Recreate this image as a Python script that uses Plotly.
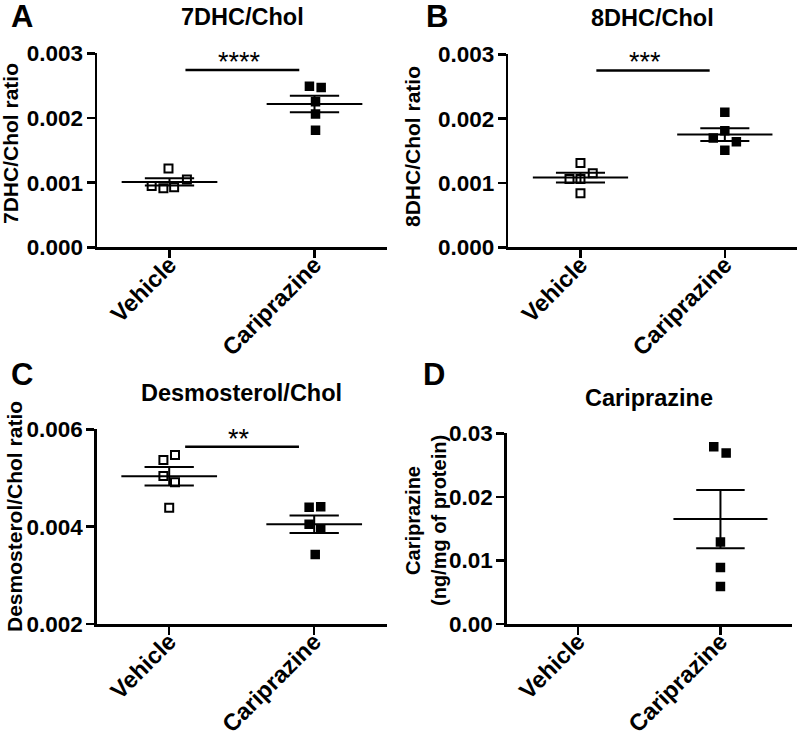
import plotly.graph_objects as go
import numpy as np

W, H = 800, 739

categories = ["Vehicle", "Cariprazine"]

# Panel A: 7DHC/Chol ratio
a_vehicle = [0.00122, 0.000948, 0.000912, 0.000927, 0.00105]
a_carip = [0.00249, 0.00247, 0.00225, 0.00206, 0.00181]
# Panel B: 8DHC/Chol ratio
b_vehicle = [0.00131, 0.00115, 0.00106, 0.00106, 0.00084]
b_carip = [0.00210, 0.00181, 0.00170, 0.00164, 0.00151]
# Panel C: Desmosterol/Chol ratio
c_vehicle = [0.00547, 0.00537, 0.00504, 0.00491, 0.00439]
c_carip = [0.00440, 0.00441, 0.00405, 0.00395, 0.00343]
# Panel D: Cariprazine (ng/mg of protein)
d_vehicle = []
d_carip = [0.0279, 0.0269, 0.0129, 0.0089, 0.0059]

# horizontal scatter spread (category units), as in the original dot plot
a_vehicle_jit = [-0.007, -0.123, -0.042, 0.032, 0.12]
a_carip_jit = [-0.035, 0.046, 0.007, 0.007, 0.007]
b_vehicle_jit = [0.0, 0.085, -0.076, 0.0, 0.0]
b_carip_jit = [0.0, 0.0, -0.08, 0.08, 0.0]
c_vehicle_jit = [0.04, -0.04, -0.04, 0.04, 0.0]
c_carip_jit = [-0.035, 0.045, -0.035, 0.045, 0.007]
d_vehicle_jit = []
d_carip_jit = [-0.047, 0.04, 0.0, 0.0, 0.0]

titles = ["7DHC/Chol", "8DHC/Chol", "Desmosterol/Chol", "Cariprazine"]
ytitles = ["7DHC/Chol ratio", "8DHC/Chol ratio", "Desmosterol/Chol ratio",
           "Cariprazine<br>(ng/mg of protein)"]
letters = ["A", "B", "C", "D"]
sig_labels = ["****", "***", "**", None]
sig_y = [0.00274, 0.00275, 0.00564, None]
sig_text_x = [0.48, 0.45, 0.48, None]

FONT = "Liberation Sans, Arial, Helvetica, sans-serif"


def px(x):
    return x / W


def py(y):
    return 1 - y / H


# panel pixel boxes: (x_left, x_right, y_top, y_bottom)
boxes = [
    (97, 387, 53.3, 247.3),
    (508.3, 797, 54.3, 247.3),
    (96.7, 386.7, 429.3, 624),
    (506.7, 791.7, 433.3, 624),
]
yranges = [[0, 0.003], [0, 0.003], [0.002, 0.006], [0, 0.03]]
ydticks = [0.001, 0.001, 0.002, 0.01]
yfmt = [".3f", ".3f", ".3f", ".2f"]

data = [
    (a_vehicle, a_vehicle_jit, a_carip, a_carip_jit),
    (b_vehicle, b_vehicle_jit, b_carip, b_carip_jit),
    (c_vehicle, c_vehicle_jit, c_carip, c_carip_jit),
    (d_vehicle, d_vehicle_jit, d_carip, d_carip_jit),
]

title_y = [17, 18, 393, 398]
ytitle_pos = [(11, 144), (412, 147), (14, 517), (426, 521)]
letter_pos = [(22, 16), (437, 16), (22, 374), (434, 374)]

fig = go.Figure()
layout = dict(
    width=W, height=H, margin=dict(l=0, r=0, t=0, b=0, autoexpand=False),
    paper_bgcolor="white", plot_bgcolor="white", showlegend=False,
    font=dict(family=FONT, color="black"),
)
annotations = []
shapes = []

for i in range(4):
    k = i + 1
    xa = "x" if k == 1 else f"x{k}"
    ya = "y" if k == 1 else f"y{k}"
    xl, xr, yt, yb = boxes[i]
    axis_common = dict(
        showline=True, linecolor="black", linewidth=2.5,
        ticks="outside", ticklen=8, tickwidth=2.5, tickcolor="black",
        showgrid=False, zeroline=False, automargin=False, fixedrange=True,
    )
    layout[f"xaxis{'' if k == 1 else k}"] = dict(
        axis_common, domain=[px(xl), px(xr)], anchor=ya, range=[-0.5, 1.5],
        tickvals=[0, 1], ticktext=categories, tickangle=-45, ticklabelstandoff=-16,
        tickfont=dict(family=FONT, size=23.5, color="black", weight="bold"),
    )
    layout[f"yaxis{'' if k == 1 else k}"] = dict(
        axis_common, domain=[py(yb), py(yt)], anchor=xa, range=yranges[i],
        dtick=ydticks[i], tick0=0, tickformat=yfmt[i], ticklabelstandoff=-1,
        tickfont=dict(family=FONT, size=22.5, color="black", weight="bold"),
    )

    veh, vj, car, cj = data[i]
    groups = [(0, veh, vj, "square-open"), (1, car, cj, "square")]
    for gx, vals, jit, sym in groups:
        if len(vals) == 0:
            continue
        vals_arr = np.array(vals)
        xs = [gx + j for j in jit]
        fig.add_trace(go.Scatter(
            x=xs, y=vals, mode="markers", xaxis=xa, yaxis=ya,
            marker=dict(symbol=sym, size=8 if sym == "square-open" else 7.5,
                        color="black", line=dict(width=2, color="black")),
            cliponaxis=False, hoverinfo="skip",
        ))
        m = vals_arr.mean()
        sem = vals_arr.std(ddof=1) / np.sqrt(len(vals_arr))
        lw = 2
        fig.add_trace(go.Scatter(x=[gx - 0.33, gx + 0.33], y=[m, m], mode="lines",
                                 xaxis=xa, yaxis=ya, line=dict(color="black", width=lw),
                                 cliponaxis=False, hoverinfo="skip"))
        for yy in (m - sem, m + sem):
            fig.add_trace(go.Scatter(x=[gx - 0.17, gx + 0.17], y=[yy, yy], mode="lines",
                                     xaxis=xa, yaxis=ya, line=dict(color="black", width=lw),
                                     cliponaxis=False, hoverinfo="skip"))
        fig.add_trace(go.Scatter(x=[gx, gx], y=[m - sem, m + sem], mode="lines",
                                 xaxis=xa, yaxis=ya, line=dict(color="black", width=lw),
                                 cliponaxis=False, hoverinfo="skip"))

    if sig_labels[i]:
        shapes.append(dict(type="line", xref=xa, yref=ya, x0=0.11, x1=0.895,
                           y0=sig_y[i], y1=sig_y[i], line=dict(color="black", width=2.5)))
        annotations.append(dict(xref=xa, yref=ya, x=sig_text_x[i], y=sig_y[i], text=sig_labels[i],
                                showarrow=False, yanchor="bottom", yshift=-9,
                                font=dict(family=FONT, size=27, color="black")))

    annotations.append(dict(xref="paper", yref="paper", x=px((xl + xr) / 2), y=py(title_y[i]),
                            text=titles[i], showarrow=False, xanchor="center", yanchor="middle",
                            font=dict(family=FONT, size=23.5, color="black", weight="bold")))
    annotations.append(dict(xref="paper", yref="paper", x=px(ytitle_pos[i][0]), y=py(ytitle_pos[i][1]),
                            text=ytitles[i], showarrow=False, xanchor="center", yanchor="middle",
                            textangle=-90,
                            font=dict(family=FONT, size=21 if i < 3 else 20, color="black",
                                      weight="bold")))
    annotations.append(dict(xref="paper", yref="paper", x=px(letter_pos[i][0]), y=py(letter_pos[i][1]),
                            text=letters[i], showarrow=False, xanchor="center", yanchor="middle",
                            font=dict(family=FONT, size=31, color="black", weight="bold")))

layout["annotations"] = annotations
layout["shapes"] = shapes
fig.update_layout(**layout)
fig.write_html("out.html", config={"displayModeBar": False, "staticPlot": True},
               post_script="document.body.style.margin='0';document.body.style.overflow='hidden';")
